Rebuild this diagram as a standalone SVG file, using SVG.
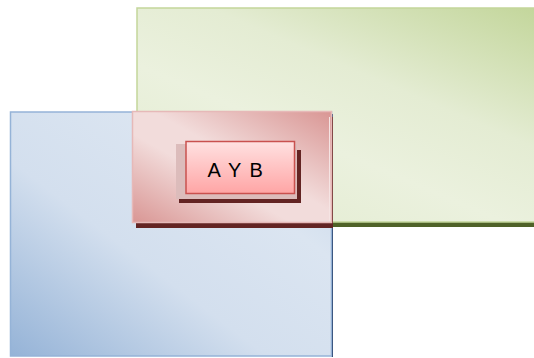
<svg xmlns="http://www.w3.org/2000/svg" width="534" height="358" viewBox="0 0 534 358">
<defs>
<linearGradient id="gGreen" x1="0.2" y1="1" x2="1" y2="0">
<stop offset="0" stop-color="#e3ecd1"/>
<stop offset="0.35" stop-color="#ebf1de"/>
<stop offset="0.6" stop-color="#e4ecd3"/>
<stop offset="1" stop-color="#c3d69b"/>
</linearGradient>
<linearGradient id="gBlue" x1="0" y1="1" x2="1" y2="0">
<stop offset="0" stop-color="#95b3d7"/>
<stop offset="0.4" stop-color="#d3dfee"/>
<stop offset="0.7" stop-color="#dbe5f1"/>
<stop offset="1" stop-color="#c2d3e8"/>
</linearGradient>
<linearGradient id="gRed" x1="1" y1="0" x2="0" y2="1">
<stop offset="0" stop-color="#d99694"/>
<stop offset="0.45" stop-color="#f2dcdb"/>
<stop offset="0.6" stop-color="#f2dcdb"/>
<stop offset="1" stop-color="#d99694"/>
</linearGradient>
<linearGradient id="gBtn" x1="0" y1="0" x2="0" y2="1">
<stop offset="0" stop-color="#ffe1e1"/>
<stop offset="1" stop-color="#ffa5a5"/>
</linearGradient>
</defs>
<style>
.lbl{font-family:"Liberation Sans","Open Sans",sans-serif;font-size:20px;fill:#000;letter-spacing:1.5px}
</style>
<g id="green">
<rect x="137" y="222" width="400" height="5" fill="#4f6228"/>
<rect x="137" y="8" width="400" height="214" fill="url(#gGreen)" stroke="#c3d69b" stroke-width="1.5"/>
</g>
<g id="blue">
<rect x="331.5" y="114" width="1.5" height="243" fill="#1f3864"/>
<rect x="10.5" y="112" width="321" height="244" fill="url(#gBlue)" stroke="#95b3d7" stroke-width="1.5"/>
</g>
<g id="intersection">
<rect x="136" y="117" width="197" height="111" fill="#632423"/>
<rect x="132.5" y="111.5" width="199" height="111" fill="url(#gRed)" stroke="#e6b9b8" stroke-width="1.5"/>
<line x1="329.5" y1="117" x2="329.5" y2="221" stroke="#f5e4e3" stroke-width="1"/>
</g>
<g id="label">
<rect x="179" y="150" width="122" height="53" fill="#632423"/>
<rect x="176" y="144" width="121" height="55" fill="#dcbcbb"/>
<rect x="186" y="141.5" width="108.5" height="52" fill="url(#gBtn)" stroke="#c9514f" stroke-width="1.5"/>
<text class="lbl" x="236" y="176.5" text-anchor="middle">A Y B</text>
</g>
<g id="connectors"/>
</svg>
